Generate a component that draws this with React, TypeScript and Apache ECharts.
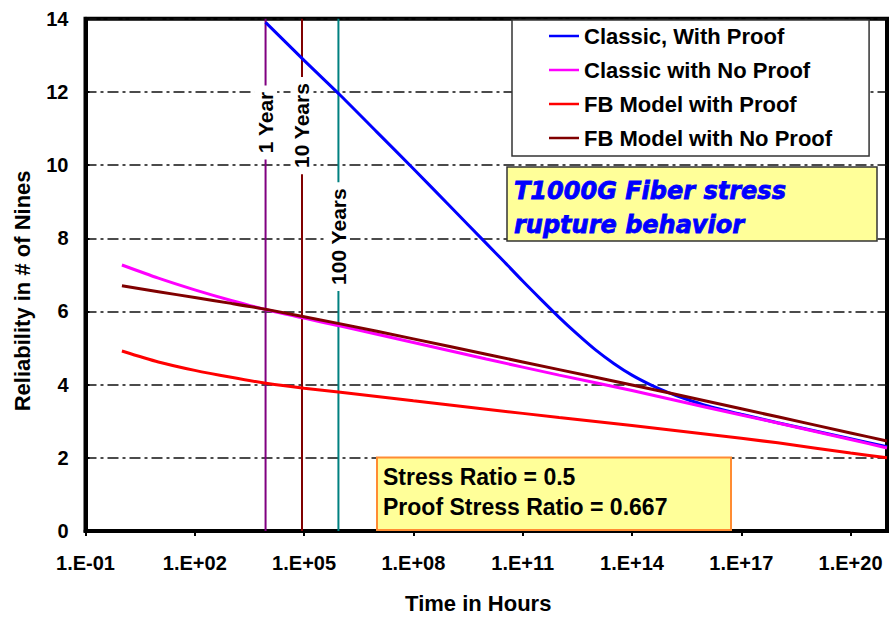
import React, { useEffect, useRef } from "react";
import * as echarts from "echarts";

const FONT = "'Liberation Sans', Arial, Helvetica, sans-serif";

// ---- data (hours vs reliability in number of nines) ----
const seriesNames = [
  "Classic, With Proof",
  "Classic with No Proof",
  "FB Model with Proof",
  "FB Model with No Proof",
];

const classicProofHours = [
  8760, 1e5, 1e6, 1e7, 1e8, 1e9, 1e10, 3.16e10, 1e11, 3.16e11, 1e12, 3.16e12, 1e13,
  3.16e13, 1e14, 3.16e14, 1e15, 3.16e15, 1e16, 1e17, 1e18, 1e19, 1e20, 1e21,
];
const classicProofNines = [
  13.9, 12.86, 11.9, 10.9, 9.9, 8.88, 7.86, 7.35, 6.83, 6.33, 5.84, 5.38, 4.95, 4.58,
  4.26, 4.0, 3.78, 3.6, 3.44, 3.19, 2.96, 2.74, 2.52, 2.3,
];

const classicNoProofHours = [1, 10, 100, 1e3, 1e4, 1e6, 1e8, 1e10, 1e12, 1e14, 1e16, 1e18, 1e20, 1e21];
const classicNoProofNines = [7.27, 6.91, 6.59, 6.3, 6.04, 5.6, 5.15, 4.7, 4.26, 3.84, 3.39, 2.95, 2.5, 2.27];

const fbProofHours = [1, 10, 100, 1e3, 1e4, 1e5, 1e6, 1e8, 1e10, 1e12, 1e14, 1e16, 1e18, 1e20, 1e21];
const fbProofNines = [4.92, 4.62, 4.39, 4.2, 4.03, 3.9, 3.79, 3.56, 3.33, 3.1, 2.88, 2.65, 2.41, 2.13, 2.0];

const fbNoProofHours = [1, 10, 100, 1e3, 1e4, 1e6, 1e8, 1e10, 1e12, 1e14, 1e16, 1e18, 1e20, 1e21];
const fbNoProofNines = [6.7, 6.54, 6.38, 6.22, 6.05, 5.66, 5.25, 4.83, 4.41, 3.99, 3.56, 3.12, 2.68, 2.46];

// reference lifetimes
const markerNames = ["1 Year", "10 Years", "100 Years"];
const markerHours = [8760, 87600, 876000];
const markerLabelNines = [11.3, 11.08, 8.1];

// axis ticks
const xTickExponents = [-1, 2, 5, 8, 11, 14, 17, 20];
const xTickLabels = ["1.E-01", "1.E+02", "1.E+05", "1.E+08", "1.E+11", "1.E+14", "1.E+17", "1.E+20"];
const yTicks = [0, 2, 4, 6, 8, 10, 12, 14];

// annotation texts
const titleLines = ["T1000G Fiber stress", "rupture behavior"];
const paramLines = ["Stress Ratio = 0.5", "Proof Stress Ratio = 0.667"];

const zip = (xs: number[], ys: number[]) => xs.map((x, i) => [x, ys[i]]);

const curveColors = ["#0000FF", "#FF00FF", "#FF0000", "#800000"];
const markerColors = ["#800080", "#800000", "#008080"];
const markerLabelOffsets = [[-5, 0], [0, 0], [-2, 0]];

function buildOption(): any {
  const curves = [
    zip(classicProofHours, classicProofNines),
    zip(classicNoProofHours, classicNoProofNines),
    zip(fbProofHours, fbProofNines),
    zip(fbNoProofHours, fbNoProofNines),
  ];

  const markerLineSeries = markerHours.map((h, i) => ({
    type: "line",
    name: markerNames[i] + " line",
    data: [[h, yTicks[0]], [h, yTicks[yTicks.length - 1]]],
    symbol: "none",
    lineStyle: { color: markerColors[i], width: 2 },
    z: 1,
    silent: true,
  }));

  const markerLabelSeries = markerHours.map((h, i) => ({
    type: "scatter",
    name: markerNames[i] + " label",
    data: [[h, markerLabelNines[i]]],
    symbol: "rect",
    symbolSize: 1,
    itemStyle: { color: "#fff", opacity: 1 },
    z: 3,
    silent: true,
    label: {
      show: true,
      position: "inside",
      formatter: markerNames[i],
      rotate: 90,
      offset: markerLabelOffsets[i],
      fontSize: 21,
      fontWeight: "bold",
      fontFamily: FONT,
      color: "#000",
      opacity: 1,
      backgroundColor: "#ffffff",
      padding: [1, 6, 1, 6],
    },
  }));

  const curveSeries = curves.map((d, i) => ({
    type: "line",
    name: seriesNames[i],
    data: d,
    symbol: "none",
    smooth: 0.25,
    lineStyle: { color: curveColors[i], width: 3 },
    itemStyle: { color: curveColors[i] },
    z: 5,
  }));

  return {
    animation: false,
    backgroundColor: "#fff",
    grid: {
      left: 85.5,
      right: 2,
      top: 18.7,
      bottom: 80,
      show: true,
      borderColor: "#000",
      borderWidth: 4,
      backgroundColor: "transparent",
    },
    legend: {
      data: seriesNames,
      orient: "vertical",
      left: 512,
      top: 20,
      backgroundColor: "#fff",
      borderColor: "#333",
      borderWidth: 1.5,
      borderRadius: 0,
      padding: [4, 37, 6, 37],
      icon: "rect",
      itemWidth: 30,
      itemHeight: 2.5,
      itemGap: 10,
      textStyle: { fontSize: 22, fontWeight: "bold", color: "#000", fontFamily: FONT, lineHeight: 24 },
      selectedMode: false,
    },
    xAxis: {
      type: "log",
      logBase: 10,
      min: 0.1,
      max: 1e21,
      interval: 3,
      name: "Time in Hours",
      nameLocation: "middle",
      nameGap: 61,
      nameTextStyle: { fontSize: 22, fontWeight: "bold", color: "#000", fontFamily: FONT, padding: [0, 16, 0, 0] },
      axisLine: { show: true, onZero: false, lineStyle: { color: "#000", width: 4 } },
      axisTick: { show: true, inside: false, length: 5, lineStyle: { color: "#000", width: 2 } },
      minorTick: { show: false },
      axisLabel: {
        show: true,
        margin: 22,
        fontSize: 20,
        fontWeight: "bold",
        color: "#000",
        fontFamily: FONT,
        showMaxLabel: false,
        formatter: (v: number) => {
          const e = Math.round(Math.log10(v));
          const idx = xTickExponents.indexOf(e);
          return idx >= 0 ? xTickLabels[idx] : "";
        },
      },
      splitLine: { show: false },
      minorSplitLine: { show: false },
    },
    yAxis: {
      type: "value",
      min: yTicks[0],
      max: yTicks[yTicks.length - 1],
      interval: 2,
      name: "Reliability in # of Nines",
      nameLocation: "middle",
      nameGap: 52,
      nameTextStyle: { fontSize: 22, fontWeight: "bold", color: "#000", fontFamily: FONT, padding: [0, 32, 0, 0] },
      axisLine: { show: true, lineStyle: { color: "#000", width: 4 } },
      axisTick: { show: true, inside: true, length: 4, lineStyle: { color: "#000", width: 2 } },
      axisLabel: { margin: 17, fontSize: 20, fontWeight: "bold", color: "#000", fontFamily: FONT },
      splitLine: { show: true, lineStyle: { color: "#111", width: 1.5, type: [11, 4, 3, 4] } },
    },
    series: [...markerLineSeries, ...curveSeries, ...markerLabelSeries],
    graphic: [
      {
        type: "rect",
        z: 100,
        shape: { x: 507, y: 167, width: 370, height: 74 },
        style: { fill: "#FFFF99", stroke: "#333", lineWidth: 1.5 },
      },
      {
        type: "text",
        z: 101,
        x: 514,
        y: 191,
        style: {
          text: titleLines[0],
          font: "italic bold 24px 'DejaVu Sans', sans-serif",
          fill: "#0000FF",
          stroke: "#0000FF",
          lineWidth: 0.8,
          verticalAlign: "middle",
        },
      },
      {
        type: "text",
        z: 101,
        x: 514,
        y: 225,
        style: {
          text: titleLines[1],
          font: "italic bold 24px 'DejaVu Sans', sans-serif",
          fill: "#0000FF",
          stroke: "#0000FF",
          lineWidth: 0.8,
          verticalAlign: "middle",
        },
      },
      {
        type: "rect",
        z: 100,
        shape: { x: 377, y: 457.5, width: 354, height: 72.5 },
        style: { fill: "#FFFF99", stroke: "#FF8C33", lineWidth: 2 },
      },
      {
        type: "text",
        z: 101,
        x: 383,
        y: 477,
        style: {
          text: paramLines[0],
          font: `bold 23px ${FONT}`,
          fill: "#000",
          verticalAlign: "middle",
        },
      },
      {
        type: "text",
        z: 101,
        x: 383,
        y: 507,
        style: {
          text: paramLines[1],
          font: `bold 23px ${FONT}`,
          fill: "#000",
          verticalAlign: "middle",
        },
      },
    ],
  };
}

export default function App() {
  const ref = useRef<HTMLDivElement>(null);
  useEffect(() => {
    if (!ref.current) return;
    const chart = echarts.init(ref.current, null, { renderer: "svg" });
    chart.setOption(buildOption());
    return () => chart.dispose();
  }, []);
  return (
    <div
      ref={ref}
      style={{ position: "fixed", left: 0, top: 0, width: 889, height: 619, background: "#fff" }}
    />
  );
}
